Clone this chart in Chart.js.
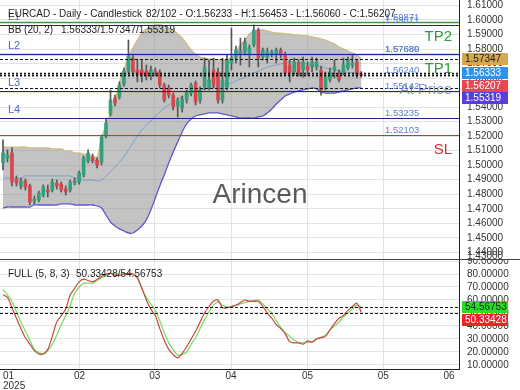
<!DOCTYPE html>
<html>
<head>
<meta charset="utf-8">
<script src="https://cdn.jsdelivr.net/npm/chart.js@4.4.1/dist/chart.umd.min.js"></script>
<style>
html, body { margin: 0; padding: 0; background: #fff; }
#wrap { position: relative; width: 520px; height: 390px; }
canvas { position: absolute; left: 0; display: block; }
#price { top: 0; }
#osc { top: 260px; }
</style>
</head>
<body>
<div id="wrap">
<canvas id="price" width="520" height="260"></canvas>
<canvas id="osc" width="520" height="130"></canvas>
</div>
<script>
// ---- data ----
const opens = [1.5015,1.5050,1.5084,1.4905,1.4857,1.4891,1.4857,1.4753,1.4760,1.4795,
  1.4829,1.4829,1.4877,1.4870,1.4836,1.4829,1.4877,1.4884,1.4932,1.5029,
  1.5056,1.5036,1.5022,1.5201,1.5353,1.5463,1.5470,1.5559,1.5649,1.5738,
  1.5656,1.5656,1.5649,1.5628,1.5649,1.5642,1.5552,1.5532,1.5483,1.5408,
  1.5394,1.5449,1.5497,1.5566,1.5449,1.5539,1.5532,1.5656,1.5642,1.5449,
  1.5539,1.5704,1.5745,1.5766,1.5780,1.5759,1.5828,1.5931,1.5745,1.5745,
  1.5766,1.5766,1.5793,1.5759,1.5690,1.5642,1.5704,1.5656,1.5683,1.5676,
  1.5676,1.5656,1.5532,1.5587,1.5656,1.5635,1.5635,1.5669,1.5690,1.5711,
  1.56233];
const closes = [1.5084,1.5070,1.4884,1.4877,1.4891,1.4850,1.4747,1.4767,1.4808,1.4850,
  1.4815,1.4884,1.4857,1.4829,1.4815,1.4884,1.4891,1.4946,1.5050,1.5084,
  1.5029,1.5001,1.5194,1.5291,1.5449,1.5428,1.5552,1.5649,1.5752,1.5642,
  1.5628,1.5621,1.5614,1.5656,1.5642,1.5552,1.5449,1.5483,1.5401,1.5442,
  1.5456,1.5504,1.5552,1.5435,1.5518,1.5676,1.5587,1.5552,1.5449,1.5587,
  1.5724,1.5738,1.5793,1.5786,1.5848,1.5807,1.5931,1.5738,1.5793,1.5780,
  1.5780,1.5793,1.5759,1.5635,1.5635,1.5711,1.5635,1.5711,1.5656,1.5711,
  1.5711,1.5518,1.5607,1.5642,1.5676,1.5587,1.5690,1.5724,1.5704,1.5621,
  1.56207];
const highs = [1.5174,1.5105,1.5119,1.4926,1.4912,1.4905,1.4870,1.4788,1.4822,1.4864,
  1.4864,1.4905,1.4898,1.4884,1.4857,1.4898,1.4912,1.4960,1.5063,1.5105,
  1.5077,1.5050,1.5208,1.5325,1.5518,1.5483,1.5573,1.5669,1.5862,1.5759,
  1.5724,1.5724,1.5690,1.5683,1.5669,1.5656,1.5566,1.5552,1.5497,1.5463,
  1.5477,1.5518,1.5566,1.5580,1.5539,1.5738,1.5724,1.5738,1.5669,1.5738,
  1.5759,1.5945,1.5821,1.5876,1.5876,1.5828,1.5966,1.5945,1.5807,1.5807,
  1.5793,1.5807,1.5807,1.5780,1.5724,1.5738,1.5724,1.5745,1.5711,1.5745,
  1.5738,1.5683,1.5642,1.5669,1.5724,1.5656,1.5738,1.5745,1.5759,1.5724,
  1.56453];
const lows = [1.4967,1.5022,1.4857,1.4857,1.4836,1.4829,1.4726,1.4733,1.4747,1.4781,
  1.4781,1.4815,1.4836,1.4815,1.4795,1.4815,1.4864,1.4870,1.4919,1.5015,
  1.5015,1.4981,1.5001,1.5187,1.5339,1.5408,1.5456,1.5545,1.5635,1.5621,
  1.5573,1.5573,1.5587,1.5587,1.5614,1.5532,1.5435,1.5463,1.5380,1.5332,
  1.5366,1.5428,1.5477,1.5415,1.5428,1.5518,1.5518,1.5532,1.5428,1.5428,
  1.5518,1.5656,1.5704,1.5690,1.5759,1.5676,1.5814,1.5676,1.5724,1.5704,
  1.5745,1.5704,1.5738,1.5621,1.5573,1.5621,1.5614,1.5607,1.5621,1.5642,
  1.5656,1.5483,1.5518,1.5573,1.5601,1.5573,1.5621,1.5656,1.5669,1.5601,
  1.56060];

const bbUpper = [1.5125,1.5125,1.5125,1.5125,1.5125,1.5125,1.5119,1.5119,1.5119,1.5119,
  1.5119,1.5112,1.5112,1.5112,1.5098,1.5098,1.5084,1.5084,1.5077,1.5070,
  1.5063,1.5057,1.5187,1.5277,1.5360,1.5449,1.5573,1.5656,1.5745,1.5807,
  1.5862,1.5910,1.5938,1.5959,1.5966,1.5966,1.5959,1.5945,1.5931,1.5904,
  1.5876,1.5835,1.5793,1.5766,1.5745,1.5738,1.5731,1.5731,1.5725,1.5725,
  1.5725,1.5738,1.5780,1.5828,1.5862,1.5904,1.5924,1.5931,1.5931,1.5924,
  1.5917,1.5910,1.5910,1.5904,1.5904,1.5897,1.5897,1.5890,1.5890,1.5883,
  1.5876,1.5869,1.5862,1.5848,1.5835,1.5814,1.5800,1.5786,1.5773,1.5759,
  1.57347];
const bbMid = [1.4912,1.4912,1.4912,1.4912,1.4912,1.4926,1.4926,1.4926,1.4926,1.4926,
  1.4926,1.4926,1.4926,1.4926,1.4926,1.4926,1.4912,1.4912,1.4898,1.4898,
  1.4898,1.4891,1.4898,1.4926,1.4953,1.4988,1.5022,1.5057,1.5105,1.5153,
  1.5201,1.5242,1.5277,1.5304,1.5339,1.5366,1.5394,1.5415,1.5435,1.5456,
  1.5470,1.5483,1.5497,1.5511,1.5518,1.5525,1.5532,1.5539,1.5545,1.5552,
  1.5559,1.5566,1.5580,1.5594,1.5607,1.5621,1.5635,1.5649,1.5663,1.5676,
  1.5683,1.5690,1.5697,1.5704,1.5711,1.5711,1.5704,1.5704,1.5697,1.5690,
  1.5683,1.5676,1.5669,1.5663,1.5656,1.5649,1.5645,1.5640,1.5638,1.5636,
  1.56333];
const bbLower = [1.4705,1.4712,1.4712,1.4712,1.4712,1.4712,1.4712,1.4726,1.4726,1.4726,
  1.4726,1.4726,1.4726,1.4733,1.4733,1.4733,1.4726,1.4726,1.4726,1.4726,
  1.4726,1.4719,1.4705,1.4657,1.4609,1.4581,1.4561,1.4547,1.4533,1.4533,
  1.4554,1.4581,1.4623,1.4691,1.4774,1.4857,1.4933,1.5015,1.5091,1.5160,
  1.5229,1.5284,1.5318,1.5339,1.5346,1.5353,1.5360,1.5360,1.5360,1.5353,
  1.5346,1.5339,1.5332,1.5325,1.5325,1.5325,1.5325,1.5332,1.5339,1.5360,
  1.5387,1.5421,1.5449,1.5477,1.5490,1.5504,1.5511,1.5518,1.5525,1.5532,
  1.5525,1.5504,1.5497,1.5497,1.5497,1.5504,1.5511,1.5518,1.5525,1.5532,
  1.55319];

const stochK = [64,62,54,46,38,31,26,21,18.5,18.5,
  22,32,43,48,53,64,69,74,76,75,
  74,76,78,80,80.5,79,79,80,80.5,80,
  77,69,60,53,48,38,29,22,18,15.5,
  19,24,30,36,43,50,55,59,60,54,
  54,55,56,58,60,59,59,59,55,50,
  46,41,38,34,28,27,27,26,28.5,27.5,
  30,31,32,37,42,46,48,52,55,57.5,
  50.33428];
const stochD = [68,64,59,51,43,36,29,22,19.5,18.5,
  21,26,33,41,48,56,65,70,73,73,
  73,75,77,79,80.5,80,80,80,80.5,80,
  77,69,62,57,52,44,35,27,22,17.5,
  18,20,26,31,38,45,51,56,58.5,56,
  54.5,55,56,57,58,59,59.5,60,57,53,
  50,44,39,35,32,29,27.5,27,27.5,28,
  30,31.5,33,37,40,43,47,50,53,56,
  54.56753];

// levels drawn on the price panel
const tpNames = ['TP2', 'TP1'];
const tpValues = [1.59871, 1.57689];
const levelNames = ['L1', 'L2', 'L3', 'L4'];
const levelValues = [1.59671, 1.57680, 1.55142, 1.53235];
const entryValue = 1.56240;
const slValue = 1.52103;

// axis ticks
const priceTicks = [1.44,1.45,1.46,1.47,1.48,1.49,1.50,1.51,1.52,1.53,1.54,1.55,1.56,1.57,1.58,1.59,1.60,1.61];
const oscTicks = [10,20,30,40,50,60,70,80,90];
const dateTickPos = [0, 17.1, 33.9, 50.9, 68, 84.9, 100.8];
const dateTickLabels = [['01', '2025'], '02', '03', '04', '05', '05', '06'];

// ---- drawing ----
const FONT = '"Liberation Sans", Arial, sans-serif';
Chart.defaults.font.family = FONT;
Chart.defaults.font.size = 10;
Chart.defaults.color = '#333';

const last = closes.length - 1;
const GREEN = '#33a07a';
const RED = '#d5484f';
const GRID = '#e3e3e3';

function pts(arr) { return arr.map((v, i) => ({ x: i, y: v })); }

function xGridColor(ctx) {
    return (ctx.index === 0 || ctx.index === dateTickPos.length - 1) ? 'rgba(0,0,0,0)' : GRID;
}

// no label padding around the plot: the plot fills the canvas edge to edge
function noPad(s) {
    s.paddingTop = 0; s.paddingBottom = 0; s.paddingLeft = 0; s.paddingRight = 0;
}

function drawTag(ctx, yc, text, bg, fg) {
    ctx.fillStyle = bg;
    ctx.fillRect(462, Math.round(yc - 6), 46, 12);
    ctx.fillStyle = fg;
    ctx.font = '10px ' + FONT;
    ctx.textAlign = 'left';
    ctx.textBaseline = 'middle';
    ctx.fillText(text, 465, Math.round(yc) + 0.5);
}

// stack tags so they do not overlap
function stackTags(list) {
    list.sort((a, b) => a.y - b.y);
    for (let i = 1; i < list.length; i++) {
        if (list[i].y < list[i - 1].y + 12.5) list[i].y = list[i - 1].y + 12.5;
    }
    return list;
}

const priceOverlay = {
    id: 'priceOverlay',
    beforeDatasetsDraw(chart) {
        const ctx = chart.ctx;
        ctx.save();
        ctx.font = '28px ' + FONT;
        ctx.fillStyle = '#5a5a5a';
        ctx.textAlign = 'center';
        ctx.textBaseline = 'alphabetic';
        ctx.fillText('Arincen', 260, 203);
        ctx.restore();
    },
    afterDatasetsDraw(chart) {
        const { ctx, chartArea: a, scales: { y } } = chart;
        const hline = (v, color, w, dash) => {
            const py = Math.round(y.getPixelForValue(v)) + 0.5;
            ctx.save();
            ctx.strokeStyle = color;
            ctx.lineWidth = w;
            ctx.setLineDash(dash || []);
            ctx.beginPath();
            ctx.moveTo(a.left, py);
            ctx.lineTo(a.right, py);
            ctx.stroke();
            ctx.restore();
            return py;
        };

        // indicator value lines
        hline(bbUpper[last], '#111', 1, [3, 2]);
        hline(bbLower[last], '#111', 1, [3, 2]);
        hline(bbMid[last], '#111', 1.5, [2, 2]);
        hline(entryValue, '#111', 1.5, [2, 2]);
        hline(closes[last], '#111', 1.5, [2, 2]);

        ctx.save();
        const vlab = (v, py) => {
            ctx.font = '9.5px ' + FONT;
            ctx.fillStyle = '#5b7fd6';
            ctx.textAlign = 'left';
            ctx.textBaseline = 'alphabetic';
            ctx.fillText(v.toFixed(5), 385, py - 3);
        };
        const big = (t, py, color) => {
            ctx.font = '15px ' + FONT;
            ctx.fillStyle = color;
            ctx.textAlign = 'right';
            ctx.textBaseline = 'alphabetic';
            ctx.fillText(t, 452, py + 18);
        };

        tpValues.forEach((v, i) => {
            const py = hline(v, '#3a9a3a', 1.3);
            vlab(v, py);
            big(tpNames[i], py, '#2f9a3a');
        });
        levelValues.forEach((v, i) => {
            const py = hline(v, '#22228a', 1.2);
            vlab(v, py);
            ctx.font = '11px ' + FONT;
            ctx.fillStyle = '#5565c8';
            ctx.textAlign = 'left';
            ctx.fillText(levelNames[i], 8, py - 6);
        });
        const slY = hline(slValue, '#cc3333', 1.2);
        vlab(slValue, slY);
        big('SL', slY, '#d03030');

        const eY = Math.round(y.getPixelForValue(entryValue)) + 0.5;
        vlab(entryValue, eY);
        big('At Price', eY, 'rgba(110,120,180,0.75)');
        ctx.restore();
    },
    afterDraw(chart) {
        const { ctx, scales: { y } } = chart;
        ctx.save();
        ctx.font = '10px ' + FONT;
        ctx.fillStyle = '#333';
        ctx.textAlign = 'left';
        ctx.textBaseline = 'middle';
        ctx.fillText('1.43000', 467, 256);

        ctx.fillStyle = '#444';
        ctx.fillRect(0, 259, 520, 1);

        ctx.font = '10px ' + FONT;
        ctx.fillStyle = '#222';
        ctx.textAlign = 'left';
        ctx.textBaseline = 'alphabetic';
        ctx.fillText('EURCAD - Daily - Candlestick', 8, 16.5);
        ctx.fillText(`${closes.length + 1}/102 - O:${opens[last].toFixed(5)} - H:${highs[last].toFixed(5)} - L:${lows[last].toFixed(5)} - C:${closes[last].toFixed(5)}`, 146, 16.5);
        ctx.fillText('BB (20, 2)', 8, 33);
        ctx.fillText(`${bbMid[last].toFixed(5)}/${bbUpper[last].toFixed(5)}/${bbLower[last].toFixed(5)}`, 61, 33);

        const tags = stackTags([
            { y: y.getPixelForValue(bbUpper[last]), t: bbUpper[last], bg: '#d5a94f', fg: '#222' },
            { y: y.getPixelForValue(bbMid[last]), t: bbMid[last], bg: '#2d93ee', fg: '#fff' },
            { y: y.getPixelForValue(closes[last]), t: closes[last], bg: '#e9464f', fg: '#fff' },
            { y: y.getPixelForValue(bbLower[last]), t: bbLower[last], bg: '#5a3cdc', fg: '#fff' }
        ]);
        tags.forEach(g => drawTag(ctx, g.y, g.t.toFixed(5), g.bg, g.fg));
        ctx.restore();
    }
};

new Chart(document.getElementById('price'), {
    type: 'bar',
    plugins: [priceOverlay],
    data: {
        datasets: [
            {
                type: 'bar',
                data: opens.map((o, i) => ({ x: i, y: [o, closes[i]] })),
                backgroundColor: (c) => closes[c.dataIndex] >= opens[c.dataIndex] ? GREEN : RED,
                barThickness: 3,
                minBarLength: 1,
                grouped: false,
                borderWidth: 0,
                order: 0
            },
            {
                type: 'bar',
                data: lows.map((l, i) => ({ x: i, y: [l, highs[i]] })),
                backgroundColor: '#555',
                barThickness: 1,
                grouped: false,
                borderWidth: 0,
                order: 1
            },
            {
                type: 'line',
                data: pts(bbMid),
                borderColor: '#7d9dc8',
                borderWidth: 1,
                pointRadius: 0,
                tension: 0.3,
                fill: false,
                order: 2
            },
            {
                type: 'line',
                data: pts(bbUpper),
                borderColor: '#cfbb80',
                borderWidth: 1.3,
                pointRadius: 0,
                tension: 0.3,
                fill: false,
                order: 3
            },
            {
                type: 'line',
                data: pts(bbLower),
                borderColor: '#6258cc',
                borderWidth: 1.3,
                pointRadius: 0,
                tension: 0.3,
                fill: '-1',
                backgroundColor: 'rgba(140,140,140,0.52)',
                order: 4
            }
        ]
    },
    options: {
        responsive: false,
        animation: false,
        events: [],
        layout: { padding: 0, autoPadding: false },
        plugins: { legend: { display: false }, tooltip: { enabled: false } },
        scales: {
            x: {
                type: 'linear',
                min: -0.67,
                max: 101.8,
                offset: false,
                afterBuildTicks: (s) => { s.ticks = dateTickPos.map(v => ({ value: v })); },
                afterFit: (s) => { s.height = 0; noPad(s); },
                ticks: { display: false },
                grid: { offset: false, color: xGridColor, drawTicks: false },
                border: { display: false }
            },
            y: {
                position: 'right',
                min: 1.43471,
                max: 1.61377,
                afterBuildTicks: (s) => { s.ticks = priceTicks.map(v => ({ value: v })); },
                afterFit: (s) => { s.width = 61; noPad(s); },
                ticks: { padding: 8, autoSkip: false, callback: (v) => Number(v).toFixed(5), color: '#333' },
                grid: { color: GRID, drawTicks: false },
                border: { display: true, color: '#222', width: 1 }
            }
        }
    }
});

const oscOverlay = {
    id: 'oscOverlay',
    afterDatasetsDraw(chart) {
        const { ctx, chartArea: a, scales: { y } } = chart;
        ctx.save();
        ctx.strokeStyle = '#111';
        ctx.lineWidth = 1;
        ctx.setLineDash([3, 2]);
        [stochK[last], stochD[last]].forEach(v => {
            const py = Math.round(y.getPixelForValue(v)) + 0.5;
            ctx.beginPath();
            ctx.moveTo(a.left, py);
            ctx.lineTo(a.right, py);
            ctx.stroke();
        });
        ctx.restore();
    },
    afterDraw(chart) {
        const { ctx, scales: { y } } = chart;
        ctx.save();
        ctx.font = '10px ' + FONT;
        ctx.fillStyle = '#222';
        ctx.textAlign = 'left';
        ctx.textBaseline = 'alphabetic';
        ctx.fillText('FULL (5, 8, 3)', 8, 16.5);
        ctx.fillText(`${stochK[last].toFixed(5)}/${stochD[last].toFixed(5)}`, 76, 16.5);
        const tags = stackTags([
            { y: y.getPixelForValue(stochD[last]), t: stochD[last], bg: '#25e025', fg: '#222' },
            { y: y.getPixelForValue(stochK[last]), t: stochK[last], bg: '#ee2424', fg: '#fff' }
        ]);
        tags.forEach(g => drawTag(ctx, g.y, g.t.toFixed(5), g.bg, g.fg));
        ctx.restore();
    }
};

new Chart(document.getElementById('osc'), {
    type: 'line',
    plugins: [oscOverlay],
    data: {
        datasets: [
            { data: pts(stochK), borderColor: '#c94646', borderWidth: 1.2, pointRadius: 0, tension: 0.3, order: 0 },
            { data: pts(stochD), borderColor: '#72dc58', borderWidth: 1.2, pointRadius: 0, tension: 0.3, order: 1 }
        ]
    },
    options: {
        responsive: false,
        animation: false,
        events: [],
        layout: { padding: 0, autoPadding: false },
        plugins: { legend: { display: false }, tooltip: { enabled: false } },
        scales: {
            x: {
                type: 'linear',
                min: -0.67,
                max: 101.8,
                afterBuildTicks: (s) => { s.ticks = dateTickPos.map(v => ({ value: v })); },
                afterFit: (s) => { s.height = 21; noPad(s); },
                ticks: {
                    align: 'inner',
                    autoSkip: false,
                    maxRotation: 0,
                    padding: 2,
                    font: { size: 10, lineHeight: 1 },
                    color: '#333',
                    callback: (v, i) => dateTickLabels[i]
                },
                grid: { color: xGridColor, drawTicks: false },
                border: { display: true, color: '#222', width: 1 }
            },
            y: {
                position: 'right',
                min: 6.92,
                max: 90.77,
                afterBuildTicks: (s) => { s.ticks = oscTicks.map(v => ({ value: v })); },
                afterFit: (s) => { s.width = 61; noPad(s); },
                ticks: { padding: 8, autoSkip: false, callback: (v) => Number(v).toFixed(5), color: '#333' },
                grid: { color: GRID, drawTicks: false },
                border: { display: true, color: '#222', width: 1 }
            }
        }
    }
});
</script>
</body>
</html>
